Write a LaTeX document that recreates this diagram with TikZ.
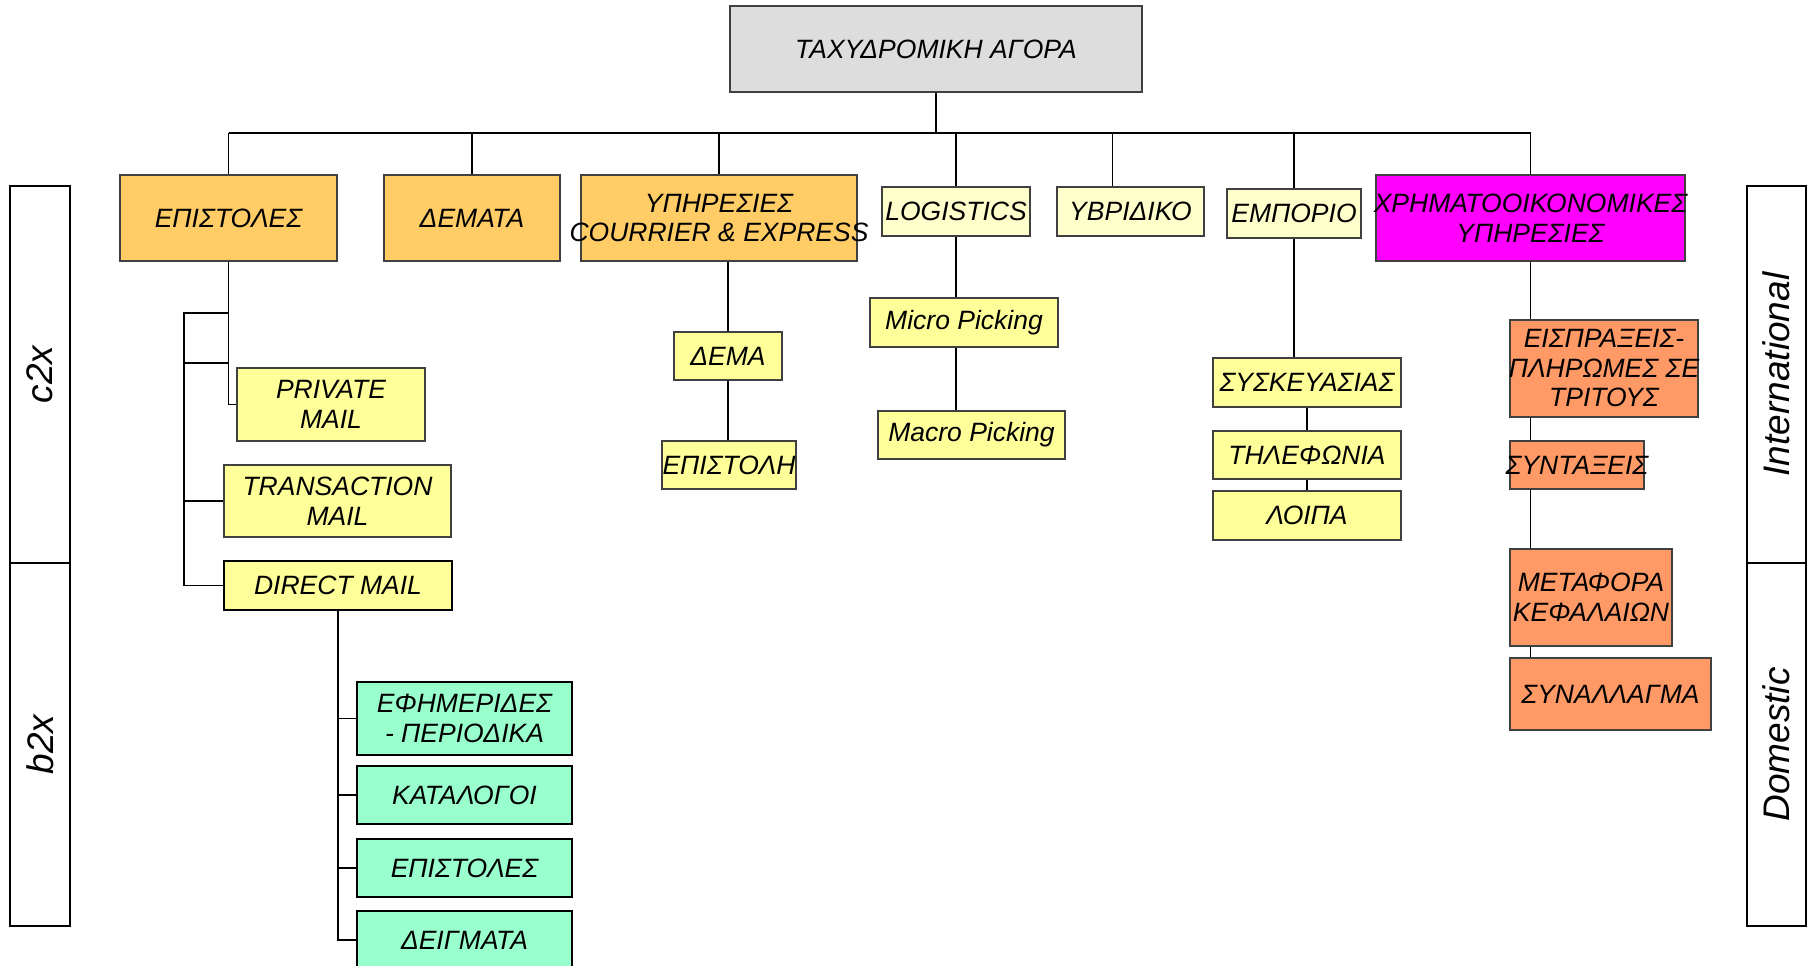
\documentclass[tikz,border=0pt]{standalone}
\usepackage{fontspec}
\setmainfont{Liberation Sans}
\usepackage{tikz}
\usetikzlibrary{positioning}
\definecolor{rootgray}{HTML}{DDDDDD}
\definecolor{orangefill}{HTML}{FFCC66}
\definecolor{paleyellow}{HTML}{FFFFCC}
\definecolor{yellowfill}{HTML}{FFFF99}
\definecolor{salmonfill}{HTML}{FF9966}
\definecolor{greenfill}{HTML}{99FFCC}
\definecolor{pinkfill}{HTML}{FF00FF}
\definecolor{edgegray}{HTML}{404040}
\tikzset{
	box/.style={draw=edgegray, line width=1.2pt, inner sep=0pt, align=center,
		font=\fontsize{26.5}{29.5}\selectfont\itshape},
	rootbox/.style={box, fill=rootgray},
	mainbox/.style={box, fill=orangefill},
	palebox/.style={box, fill=paleyellow},
	mailbox/.style={box, fill=yellowfill},
	thickbox/.style={box, fill=yellowfill, draw=black, line width=2pt},
	greenbox/.style={box, fill=greenfill, draw=black, line width=2pt},
	moneybox/.style={box, fill=salmonfill},
	magentabox/.style={box, fill=pinkfill},
	sidebox/.style={draw=black, line width=1.8pt, inner sep=0pt, rotate=90,
		font=\fontsize{37}{40}\selectfont\itshape},
	link/.style={draw=black, line width=1.3pt},
	bus/.style={draw=black, line width=2pt}
}
% name, style, x, y, width, height, text
\newcommand{\pbox}[7][]{
	\node [#2, minimum width=#5, minimum height=#6] (#1) at (#3, #4) {#7};
}
% text line that may stick out of its box
\newcommand{\wide}[1]{\makebox[0pt]{#1}}

\begin{document}
\begin{tikzpicture}[x=1pt, y=-1pt]
		\useasboundingbox (0,0) rectangle (1812,966);
		\clip (0,0) rectangle (1812,966);
		
		% side bands
		\pbox[c2x]{sidebox}{40}{374.5}{377}{60}{c2x}
		\pbox[b2x]{sidebox}{40}{744.5}{363}{60}{b2x}
		\pbox[intl]{sidebox}{1776.5}{374.5}{377}{59}{International}
		\pbox[dom]{sidebox}{1776.5}{744.5}{363}{59}{Domestic}
		
		\pbox[root]{rootbox}{936}{49}{412}{86}{ΤΑΧΥΔΡΟΜΙΚΗ ΑΓΟΡΑ}
		
		\pbox[epist]{mainbox}{228.5}{218}{217}{86}{ΕΠΙΣΤΟΛΕΣ}
		\pbox[demata]{mainbox}{472}{218}{176}{86}{ΔΕΜΑΤΑ}
		\pbox[courier]{mainbox}{719}{218}{276}{86}{ΥΠΗΡΕΣΙΕΣ\\\wide{COURRIER \& EXPRESS}}
		\pbox[logi]{palebox}{956}{211.5}{148}{49}{\wide{LOGISTICS}}
		\pbox[ybrid]{palebox}{1130.5}{211.5}{147}{49}{ΥΒΡΙΔΙΚΟ}
		\pbox[empor]{palebox}{1294}{213.5}{134}{49}{\wide{ΕΜΠΟΡΙΟ}}
		\pbox[fin]{magentabox}{1530.5}{218}{309}{86}{\wide{ΧΡΗΜΑΤΟΟΙΚΟΝΟΜΙΚΕΣ}\\ΥΠΗΡΕΣΙΕΣ}
		
		\pbox[private]{mailbox}{331}{404.5}{188}{73}{PRIVATE\\MAIL}
		\pbox[trans]{mailbox}{337.5}{501}{227}{72}{TRANSACTION\\MAIL}
		\pbox[direct]{thickbox}{338}{585.5}{228}{49}{DIRECT MAIL}
		
		\pbox[efim]{greenbox}{464.5}{718.5}{215}{73}{ΕΦΗΜΕΡΙΔΕΣ\\- ΠΕΡΙΟΔΙΚΑ}
		\pbox[katal]{greenbox}{464.5}{795}{215}{58}{ΚΑΤΑΛΟΓΟΙ}
		\pbox[letters]{greenbox}{464.5}{868}{215}{58}{ΕΠΙΣΤΟΛΕΣ}
		\pbox[deigm]{greenbox}{464.5}{940}{215}{58}{ΔΕΙΓΜΑΤΑ}
		
		\pbox[dema]{mailbox}{728}{356}{108}{48}{ΔΕΜΑ}
		\pbox[epistoli]{mailbox}{729}{465}{134}{48}{\wide{ΕΠΙΣΤΟΛΗ}}
		
		\pbox[micro]{mailbox}{964}{322.5}{188}{49}{Micro Picking}
		\pbox[macro]{mailbox}{971.5}{435}{187}{48}{Macro Picking}
		
		\pbox[sysk]{mailbox}{1307}{382.5}{188}{49}{\wide{ΣΥΣΚΕΥΑΣΙΑΣ}}
		\pbox[tilef]{mailbox}{1307}{455}{188}{48}{ΤΗΛΕΦΩΝΙΑ}
		\pbox[loipa]{mailbox}{1307}{515.5}{188}{49}{ΛΟΙΠΑ}
		
		\pbox[eispr]{moneybox}{1604}{368.5}{188}{97}{ΕΙΣΠΡΑΞΕΙΣ-\\\wide{ΠΛΗΡΩΜΕΣ ΣΕ}\\ΤΡΙΤΟΥΣ}
		\pbox[syntax]{moneybox}{1577}{465}{134}{48}{\wide{ΣΥΝΤΑΞΕΙΣ}}
		\pbox[metaf]{moneybox}{1591}{597.5}{162}{97}{ΜΕΤΑΦΟΡΑ\\\wide{ΚΕΦΑΛΑΙΩΝ}}
		\pbox[synal]{moneybox}{1610.5}{694}{201}{72}{ΣΥΝΑΛΛΑΓΜΑ}
		
		% top level bus
		\coordinate (bus) at (936,133);
		\draw [bus] (root.south) -- (bus);
		\draw [bus] (epist.north |- bus) -- (fin.north |- bus);
		\foreach \n in {epist,demata,courier,logi,empor,fin}
			\draw [link] (\n.north |- bus) -- (\n.north);
		\draw [link] ([xshift=56]ybrid.north west |- bus) -- ([xshift=56]ybrid.north west);
		
		% letters branch
		\coordinate (lk1) at (184,313);
		\coordinate (lk2) at (184,363);
		\draw [link] (epist.south) |- (private.west);
		\draw [link] (epist.south |- lk1) -- (lk1) |- (direct.west);
		\draw [link] (lk2) -- (lk2 -| epist.south);
		\draw [link] (lk1 |- trans.west) -- (trans.west);
		\draw [link] (direct.south) |- (deigm.west);
		\foreach \n in {efim,katal,letters}
			\draw [link] (direct.south |- \n.west) -- (\n.west);
		
		% courier branch
		\draw [link] (dema.north |- courier.south) -- (dema.north);
		\draw [link] (dema.south) -- (dema.south |- epistoli.north);
		
		% logistics branch
		\foreach \a/\b in {logi/micro, micro/macro}
			\draw [link] (logi.south |- \a.south) -- (logi.south |- \b.north);
		
		% trade branch
		\draw [link] (empor.south) -- (empor.south |- sysk.north);
		\draw [link] (sysk) -- (tilef);
		\draw [link] (tilef) -- (loipa);
		
		% financial branch
		\foreach \a/\b in {fin/eispr, eispr/syntax, syntax/metaf, metaf/synal}
			\draw [link] (fin.south |- \a.south) -- (fin.south |- \b.north);
\end{tikzpicture}
\end{document}
